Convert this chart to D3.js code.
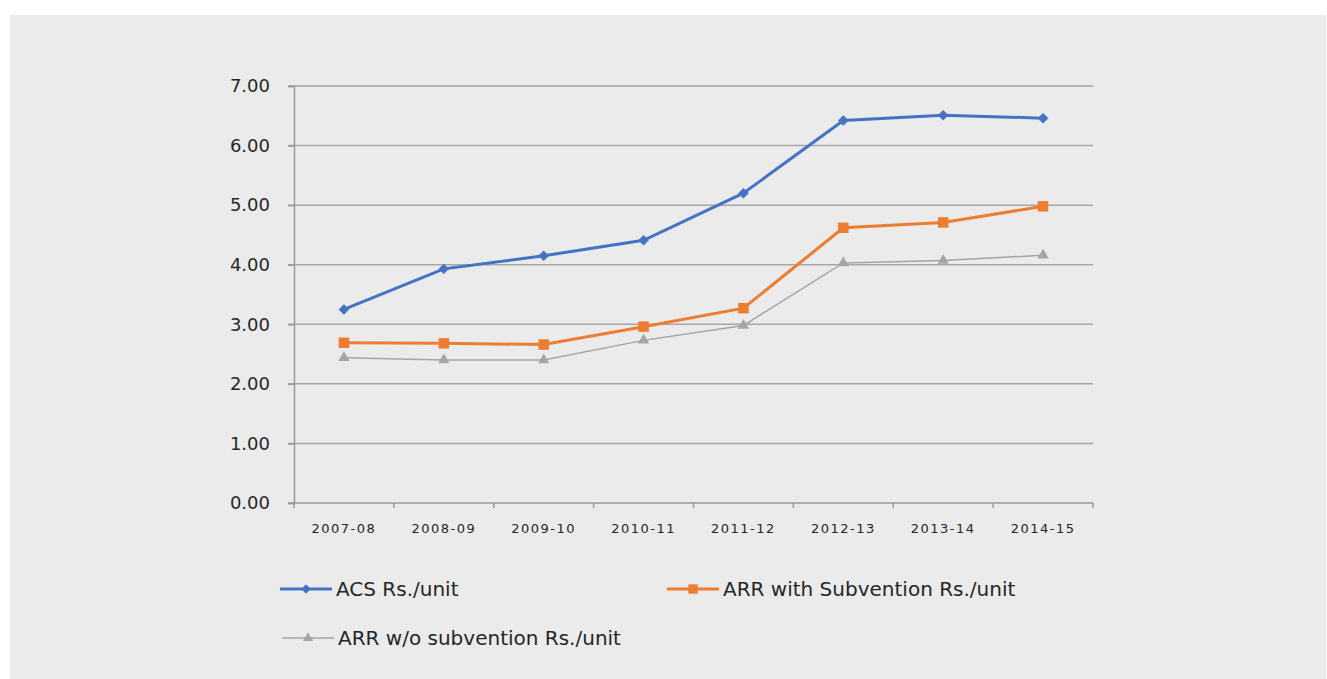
<!DOCTYPE html>
<meta charset="utf-8">
<style>
body { margin: 0; background: #fff; }
text { font-family: "DejaVu Sans", "Noto Sans", sans-serif; fill: #262626; }
.grid line { stroke: #a6a6a6; stroke-width: 1.5px; }
.axis path, .axis line { stroke: #9a9a9a; stroke-width: 1.5px; }
.line { fill: none; }
</style>
<svg width="1327" height="679"></svg>
<script src="https://cdn.jsdelivr.net/npm/d3@7"></script>
<script>

var years = ["2007-08", "2008-09", "2009-10", "2010-11", "2011-12", "2012-13", "2013-14", "2014-15"];
var acs = [3.25, 3.93, 4.15, 4.41, 5.20, 6.42, 6.51, 6.46];
var arrWith = [2.69, 2.68, 2.66, 2.96, 3.27, 4.62, 4.71, 4.98];
var arrWithout = [2.44, 2.40, 2.40, 2.73, 2.98, 4.03, 4.07, 4.16];
var yTicks = [0, 1, 2, 3, 4, 5, 6, 7];

var series = [
  {name: "ACS Rs./unit", values: acs, color: "#4472c4", width: 3, symbol: d3.symbolDiamond2, size: 70},
  {name: "ARR with Subvention Rs./unit", values: arrWith, color: "#ed7d31", width: 3, symbol: d3.symbolSquare, size: 110},
  {name: "ARR w/o subvention Rs./unit", values: arrWithout, color: "#a5a5a5", width: 1.5, symbol: d3.symbolTriangle, size: 55}
];

var svg = d3.select("svg");

// grey panel
svg.append("rect")
    .attr("x", 10).attr("y", 15)
    .attr("width", 1316).attr("height", 664)
    .attr("fill", "#ebebeb");

var margin = {left: 294, right: 234, top: 86, bottom: 176},
    width = 1327 - margin.left - margin.right,
    height = 679 - margin.top - margin.bottom;

var g = svg.append("g").attr("transform", "translate(" + margin.left + "," + margin.top + ")");

var x = d3.scaleBand().domain(years).range([0, width]);
var y = d3.scaleLinear().domain([0, 7]).range([height, 0]);

// gridlines
g.append("g")
    .attr("class", "grid")
    .selectAll("line")
    .data(yTicks.slice(1))
  .enter().append("line")
    .attr("x1", -6).attr("x2", width)
    .attr("y1", function(d) { return y(d); })
    .attr("y2", function(d) { return y(d); });

// y axis
var yAxis = g.append("g")
    .attr("class", "axis")
    .call(d3.axisLeft(y).tickValues(yTicks).tickFormat(d3.format(".2f")).tickSize(6).tickPadding(18));
yAxis.selectAll("text").style("font-size", "18px");

// x axis
var tickPos = years.map(function(d) { return x(d); }).concat([width]);
var xAxis = g.append("g")
    .attr("class", "axis")
    .attr("transform", "translate(0," + height + ")");
xAxis.append("line").attr("x1", -6).attr("x2", width);
xAxis.selectAll(".tk")
    .data(tickPos)
  .enter().append("line")
    .attr("class", "tk")
    .attr("x1", function(d) { return d; }).attr("x2", function(d) { return d; })
    .attr("y1", 0).attr("y2", 5);
xAxis.selectAll(".lbl")
    .data(years)
  .enter().append("text")
    .attr("class", "lbl")
    .attr("x", function(d) { return x(d) + x.bandwidth() / 2; })
    .attr("y", 30)
    .attr("text-anchor", "middle")
    .style("font-size", "13px")
    .style("letter-spacing", "1.5px")
    .text(function(d) { return d; });

var line = d3.line()
    .x(function(d, i) { return x(years[i]) + x.bandwidth() / 2; })
    .y(function(d) { return y(d); });

// draw gray first so blue/orange sit on top
series.slice().reverse().forEach(function(s) {
  var sg = g.append("g");
  sg.append("path")
      .attr("class", "line")
      .attr("d", line(s.values))
      .attr("stroke", s.color)
      .attr("stroke-width", s.width);
  sg.selectAll("path.pt")
      .data(s.values)
    .enter().append("path")
      .attr("class", "pt")
      .attr("transform", function(d, i) { return "translate(" + (x(years[i]) + x.bandwidth() / 2) + "," + y(d) + ")"; })
      .attr("d", d3.symbol().type(s.symbol).size(s.size))
      .attr("fill", s.color);
});

// legend
var legendPos = [{x: 280, y: 589}, {x: 667, y: 589}, {x: 282, y: 638}];
series.forEach(function(s, i) {
  var p = legendPos[i];
  var lg = svg.append("g").attr("transform", "translate(" + p.x + "," + p.y + ")");
  lg.append("line")
      .attr("x1", 0).attr("x2", 52)
      .attr("stroke", s.color)
      .attr("stroke-width", s.width);
  lg.append("path")
      .attr("transform", "translate(26,0)")
      .attr("d", d3.symbol().type(s.symbol).size(s.size * 0.8))
      .attr("fill", s.color);
  lg.append("text")
      .attr("x", 56)
      .attr("dy", "0.35em")
      .style("font-size", "20px")
      .text(s.name);
});

</script>
